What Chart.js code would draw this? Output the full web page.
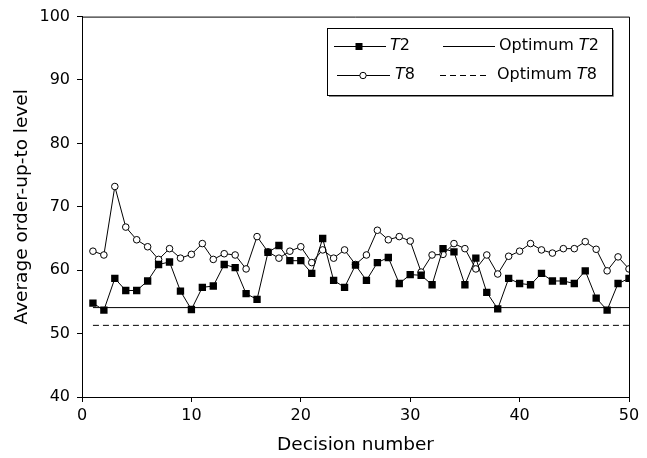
<!DOCTYPE html>
<html>
<head>
<meta charset="utf-8">
<script src="https://cdn.jsdelivr.net/npm/chart.js@4"></script>
<style>
  body { margin: 0; background: #fff; }
</style>
</head>
<body>
<canvas id="chart" width="647" height="458"></canvas>
<script>
// decision numbers
var decisions = [1, 2, 3, 4, 5, 6, 7, 8, 9, 10, 11, 12, 13, 14, 15, 16, 17, 18, 19, 20,
  21, 22, 23, 24, 25, 26, 27, 28, 29, 30, 31, 32, 33, 34, 35, 36, 37, 38, 39, 40,
  41, 42, 43, 44, 45, 46, 47, 48, 49, 50];

var t2 = [54.8, 53.7, 58.7, 56.8, 56.8, 58.3, 60.9, 61.3, 56.7, 53.8,
  57.3, 57.5, 60.9, 60.4, 56.3, 55.4, 62.8, 63.9, 61.5, 61.5,
  59.5, 65.0, 58.4, 57.3, 60.8, 58.4, 61.2, 62.0, 57.9, 59.3,
  59.2, 57.7, 63.4, 62.9, 57.7, 61.9, 56.5, 53.9, 58.7, 57.9,
  57.7, 59.5, 58.3, 58.3, 57.9, 59.9, 55.6, 53.7, 57.9, 58.7];

var t8 = [63.0, 62.4, 73.2, 66.8, 64.8, 63.7, 61.7, 63.4, 61.9, 62.5,
  64.2, 61.7, 62.6, 62.4, 60.2, 65.3, 62.9, 61.9, 63.0, 63.7,
  61.2, 63.2, 61.9, 63.2, 60.9, 62.4, 66.3, 64.8, 65.3, 64.6,
  59.7, 62.4, 62.5, 64.2, 63.4, 60.2, 62.4, 59.4, 62.2, 63.0,
  64.2, 63.2, 62.7, 63.4, 63.4, 64.5, 63.3, 59.9, 62.1, 60.2];

var optimumT2 = 54.1;
var optimumT8 = 51.3;

var xTicks = [0, 10, 20, 30, 40, 50];
var yTicks = [40, 50, 60, 70, 80, 90, 100];

var FONT = "'DejaVu Sans', sans-serif";

function pts(vals) {
  return decisions.map(function (d, i) { return { x: d, y: vals[i] }; });
}
function flat(v) {
  return [{ x: decisions[0], y: v }, { x: decisions[decisions.length - 1], y: v }];
}

// frame on top / right + legend box
var framePlugin = {
  id: 'frame',
  afterDraw: function (chart) {
    var c = chart.ctx, a = chart.chartArea;
    c.save();
    c.strokeStyle = '#000';
    c.lineWidth = 1;
    c.beginPath();
    c.moveTo(a.left, a.top + 0.5);
    c.lineTo(a.right + 0.5, a.top + 0.5);
    c.lineTo(a.right + 0.5, a.bottom);
    c.stroke();

    // legend box
    var bx = 327, by = 28, bw = 285, bh = 67;
    c.fillStyle = '#fff';
    c.fillRect(bx, by, bw, bh);
    c.strokeStyle = '#888';
    c.beginPath();
    c.moveTo(bx + bw + 1.5, by + 2);
    c.lineTo(bx + bw + 1.5, by + bh + 1.5);
    c.lineTo(bx + 2, by + bh + 1.5);
    c.stroke();
    c.strokeStyle = '#000';
    c.strokeRect(bx + 0.5, by + 0.5, bw, bh);

    function line(x1, x2, y, dash) {
      c.setLineDash(dash || []);
      c.beginPath();
      c.moveTo(x1, y + 0.5);
      c.lineTo(x2, y + 0.5);
      c.stroke();
      c.setLineDash([]);
    }
    function label(x, y, pre, tNum) {
      c.fillStyle = '#000';
      c.textBaseline = 'middle';
      c.font = '16px ' + FONT;
      var w = 0;
      if (pre) { c.fillText(pre, x, y); w = c.measureText(pre).width; }
      c.font = 'italic 16px ' + FONT;
      c.fillText('T', x + w, y);
      w += c.measureText('T').width;
      c.font = '16px ' + FONT;
      c.fillText(tNum, x + w, y);
    }
    var r1 = 46, r2 = 75;
    line(334, 386, r1);
    c.fillStyle = '#000';
    c.fillRect(355.5, r1 - 3, 7, 7);
    label(390, r1, '', '2');

    line(337, 390, r2);
    c.beginPath();
    c.arc(363, r2 + 0.5, 3.2, 0, Math.PI * 2);
    c.fillStyle = '#fff';
    c.fill();
    c.stroke();
    label(395, r2, '', '8');

    line(443, 495, r1);
    label(499, r1, 'Optimum ', '2');
    line(440, 490, r2, [6, 4]);
    label(497, r2, 'Optimum ', '8');
    c.restore();
  }
};

new Chart(document.getElementById('chart'), {
  type: 'line',
  data: {
    datasets: [
      {
        label: 'T2',
        data: pts(t2),
        borderColor: '#000',
        borderWidth: 1,
        backgroundColor: '#000',
        pointStyle: 'rect',
        pointRadius: 5.2,
        pointBorderWidth: 0,
        tension: 0
      },
      {
        label: 'T8',
        data: pts(t8),
        borderColor: '#000',
        borderWidth: 1,
        backgroundColor: '#fff',
        pointStyle: 'circle',
        pointRadius: 3.3,
        pointBorderWidth: 1,
        tension: 0
      },
      {
        label: 'Optimum T2',
        data: flat(optimumT2),
        borderColor: '#000',
        borderWidth: 1,
        pointRadius: 0
      },
      {
        label: 'Optimum T8',
        data: flat(optimumT8),
        borderColor: '#000',
        borderWidth: 1,
        borderDash: [6, 4],
        pointRadius: 0
      }
    ]
  },
  options: {
    responsive: false,
    animation: false,
    devicePixelRatio: 1,
    layout: { padding: { top: 15, right: 18, left: 0, bottom: 0 } },
    plugins: {
      legend: { display: false },
      tooltip: { enabled: false }
    },
    scales: {
      x: {
        type: 'linear',
        min: 0,
        max: 50,
        afterFit: function (s) { s.height = 61; },
        afterBuildTicks: function (s) { s.ticks = xTicks.map(function (v) { return { value: v }; }); },
        grid: { drawOnChartArea: false, drawTicks: true, tickLength: 5, color: '#000' },
        border: { color: '#000', width: 1 },
        ticks: { color: '#000', font: { family: FONT, size: 16 }, padding: 4, maxRotation: 0 },
        title: {
          display: true,
          text: 'Decision number',
          color: '#000',
          font: { family: FONT, size: 18.5 },
          padding: { top: 0, bottom: 2 }
        }
      },
      y: {
        min: 40,
        max: 100,
        afterFit: function (s) { s.width = 82; },
        afterBuildTicks: function (s) { s.ticks = yTicks.map(function (v) { return { value: v }; }); },
        grid: { drawOnChartArea: false, drawTicks: true, tickLength: 5, color: '#000' },
        border: { color: '#000', width: 1 },
        ticks: { color: '#000', font: { family: FONT, size: 16 }, padding: 7 },
        title: {
          display: true,
          text: 'Average order-up-to level',
          color: '#000',
          font: { family: FONT, size: 18.5 },
          padding: { top: 11, bottom: 0 }
        }
      }
    }
  },
  plugins: [framePlugin]
});
</script>
</body>
</html>
